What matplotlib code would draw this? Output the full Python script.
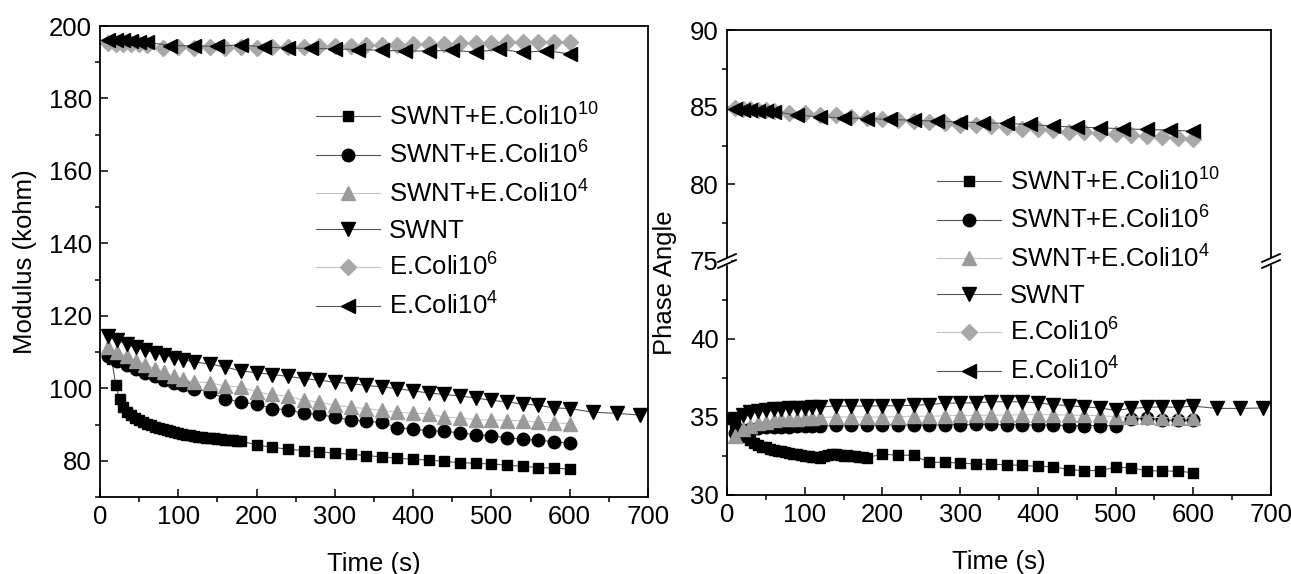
import numpy as np
import matplotlib.pyplot as plt
from matplotlib.ticker import MultipleLocator, FixedLocator

plt.rcParams['font.family'] = ['Liberation Sans', 'DejaVu Sans']
plt.rcParams['mathtext.default'] = 'regular'
plt.rcParams['font.size'] = 18.5

W, H = 1291, 574
FS = 18.5

# ---------------- data: modulus (left panel) ----------------
t_dense10 = [10, 22, 34, 46, 58, 70, 82, 94, 106, 120]
t_step20 = list(range(140, 601, 20))
t_swnt_tail = [630, 660, 690]

mod_swnt = [114.5, 113.2, 112.2, 111.3, 110.5, 109.8, 109.1, 108.5, 107.9, 107.3,
            106.7, 105.9, 104.8, 104.3, 103.8, 103.3, 102.7, 102.2, 101.7, 101.3,
            100.8, 100.4, 99.9, 99.3, 98.7, 98.3, 97.9, 97.3, 96.7, 96.2, 95.7,
            95.3, 94.6, 94.4, 93.4, 93.1, 92.6]
mod_swnt_e6 = [109.0, 107.5, 106.3, 105.2, 104.2, 103.3, 102.4, 101.6, 100.8, 99.9,
               99.0, 97.1, 96.2, 95.6, 94.4, 94.1, 93.1, 92.8, 92.0, 91.3, 90.9,
               90.6, 89.1, 88.8, 88.3, 88.1, 87.7, 87.2, 86.9, 86.3, 86.0, 85.6,
               85.3, 84.8]
mod_swnt_e4 = [111.5, 110.0, 108.8, 107.6, 106.5, 105.4, 104.4, 103.4, 102.5, 101.7,
               101.6, 100.6, 100.4, 99.0, 98.3, 97.8, 96.7, 96.2, 95.3, 94.8, 94.4,
               93.9, 93.4, 93.1, 93.0, 92.0, 91.9, 91.3, 91.3, 91.1, 91.1, 90.6,
               90.5, 90.2]

t_sq_mod = [15] + list(range(20, 181, 5)) + list(range(200, 601, 20))
mod_swnt_e10 = [108.0,
                101.0, 97.0, 94.8, 93.5, 92.5, 91.8, 91.2, 90.7, 90.2, 89.8, 89.4,
                89.1, 88.8, 88.5, 88.2, 87.9, 87.6, 87.4, 87.2, 87.0, 86.8, 86.6,
                86.5, 86.4, 86.3, 86.2, 86.0, 85.9, 85.8, 85.7, 85.6, 85.5, 85.4,
                84.4, 83.7, 83.2, 82.8, 82.5, 82.1, 81.8, 81.4, 81.1, 80.7, 80.4,
                80.2, 79.8, 79.5, 79.3, 79.1, 78.8, 78.5, 78.1, 78.0, 77.7]

t_ecoli4 = [10, 20, 30, 40, 50, 60] + list(range(90, 601, 30))
t_ecoli6 = [10, 20, 30, 40, 50, 60] + list(range(80, 601, 20))
mod_ecoli4 = [196.2, 196.1, 196.0, 195.8, 195.7, 195.5,
              194.6, 194.5, 194.4, 194.8, 194.2, 193.9, 193.8, 193.7, 193.5,
              193.3, 193.1, 193.1, 193.3, 192.8, 193.6, 192.7, 193.2, 192.3]
mod_ecoli6 = [195.2, 195.1, 195.0, 194.9, 194.9, 194.8,
              193.9, 194.1, 194.0, 194.2, 194.0, 194.1, 194.0, 194.1, 194.2,
              194.3, 194.4, 194.5, 194.6, 194.7, 194.7, 194.8, 195.0, 195.1,
              195.1, 195.2, 195.3, 195.4, 195.5, 195.5, 195.6, 195.7, 195.7]

# ---------------- data: phase angle (right panel) ----------------
t_dense_ph = list(range(10, 121, 10))
t_sq_ph = list(range(5, 181, 5)) + list(range(200, 601, 20))

ph_swnt = [34.9, 35.15, 35.3, 35.4, 35.45, 35.5, 35.52, 35.55, 35.57, 35.6, 35.62, 35.65,
           35.7, 35.7, 35.7, 35.72, 35.72, 35.75, 35.8, 35.88, 35.9, 35.9, 35.98, 35.98,
           35.98, 35.9, 35.8, 35.72, 35.65, 35.58, 35.42, 35.55, 35.62, 35.65, 35.62, 35.7,
           35.55, 35.55, 35.58]
ph_swnt_e4 = [33.8, 34.2, 34.45, 34.6, 34.7, 34.78, 34.85, 34.88, 34.9, 34.92, 34.95, 34.97,
              35.0, 35.0, 35.0, 35.0, 35.02, 35.05, 35.05, 35.08, 35.1, 35.1, 35.12, 35.12,
              35.15, 35.15, 35.15, 35.12, 35.1, 35.1, 35.0, 35.0, 35.0, 34.95, 34.95, 34.95]
ph_swnt_e6 = [34.0, 34.15, 34.25, 34.3, 34.33, 34.35, 34.37, 34.38, 34.4, 34.4, 34.4, 34.4,
              34.48, 34.5, 34.5, 34.5, 34.5, 34.48, 34.48, 34.5, 34.5, 34.52, 34.52, 34.5,
              34.5, 34.48, 34.48, 34.45, 34.45, 34.45, 34.45,
              34.85, 34.95, 34.8, 34.78, 34.78]
ph_swnt_e10 = [34.9, 34.6, 34.2, 33.9, 33.7, 33.5, 33.35, 33.2, 33.1, 33.05, 32.98, 32.9,
               32.85, 32.8, 32.75, 32.7, 32.65, 32.6, 32.56, 32.52, 32.5, 32.45, 32.42, 32.4,
               32.5, 32.58, 32.6, 32.62, 32.58, 32.52, 32.56, 32.5, 32.47, 32.45, 32.42, 32.4,
               32.62, 32.55, 32.55, 32.1, 32.1, 32.05, 31.99, 31.97, 31.94, 31.9, 31.83,
               31.82, 31.62, 31.57, 31.57, 31.77, 31.75, 31.55, 31.55, 31.52, 31.44]
ph_ecoli4 = [84.85, 84.8, 84.78, 84.75, 84.72, 84.7,
             84.48, 84.35, 84.3, 84.24, 84.2, 84.13, 84.09, 84.02, 83.98, 83.93, 83.87,
             83.76, 83.69, 83.65, 83.58, 83.54, 83.5, 83.43]
ph_ecoli6 = [84.95, 84.9, 84.85, 84.8, 84.78, 84.75,
             84.63, 84.6, 84.5, 84.45, 84.38, 84.3, 84.22, 84.18, 84.12, 84.05, 83.95,
             83.85, 83.8, 83.75, 83.68, 83.6, 83.55, 83.48, 83.4, 83.35, 83.28, 83.22,
             83.18, 83.1, 83.05, 83.0, 82.95]

labels = ['SWNT+E.Coli10$^{10}$', 'SWNT+E.Coli10$^{6}$', 'SWNT+E.Coli10$^{4}$',
          'SWNT', 'E.Coli10$^{6}$', 'E.Coli10$^{4}$']

# marker, face colour, marker size, line colour
styles = [('s', 'black', 7.5, '#555555'),
          ('o', 'black', 9, '#555555'),
          ('^', '#9a9a9a', 10, '#c4c4c4'),
          ('v', 'black', 10, '#555555'),
          ('D', '#a8a8a8', 8, '#c4c4c4'),
          ('<', 'black', 10, '#555555')]

t_swnt_mod = t_dense10 + t_step20 + t_swnt_tail
t_other_mod = t_dense10 + t_step20
mod_series = [(t_sq_mod, mod_swnt_e10), (t_other_mod, mod_swnt_e6), (t_other_mod, mod_swnt_e4),
              (t_swnt_mod, mod_swnt), (t_ecoli6, mod_ecoli6), (t_ecoli4, mod_ecoli4)]

t_swnt_ph = t_dense_ph + t_step20 + t_swnt_tail
t_other_ph = t_dense_ph + t_step20
ph_series = [(t_sq_ph, ph_swnt_e10), (t_other_ph, ph_swnt_e6), (t_other_ph, ph_swnt_e4),
             (t_swnt_ph, ph_swnt), (t_ecoli6, ph_ecoli6), (t_ecoli4, ph_ecoli4)]


def fx(px):
    return px / W


def fy(py):
    return 1 - py / H


def draw(ax, series):
    handles = []
    for (t, v), (m, fc, ms, lc), lab in zip(series, styles, labels):
        h, = ax.plot(t, v, color=lc, lw=0.8, marker=m, ms=ms, mfc=fc, mec=fc,
                     label=lab)
        handles.append(h)
    return handles


def style(ax):
    ax.tick_params(direction='in', top=False, right=False, labelsize=FS, pad=6)
    ax.tick_params(which='major', length=6, width=1.1)
    ax.tick_params(which='minor', length=3.5, width=1.1)
    for s in ax.spines.values():
        s.set_linewidth(1.3)
    ax.set_xlim(0, 700)
    ax.xaxis.set_major_locator(MultipleLocator(100))
    ax.xaxis.set_minor_locator(MultipleLocator(50))


leg_kw = dict(frameon=False, fontsize=FS, handlelength=2.5, handletextpad=0.35,
              labelspacing=0.44, borderpad=0, borderaxespad=0, numpoints=1)

fig = plt.figure(figsize=(W / 100, H / 100), dpi=100)

# ---- left: modulus ----
axL = fig.add_axes([fx(100), fy(497), fx(548), 471 / H])
hL = draw(axL, mod_series)
style(axL)
axL.set_ylim(70, 200)
axL.yaxis.set_major_locator(MultipleLocator(20))
axL.yaxis.set_minor_locator(MultipleLocator(10))
axL.set_xlabel('Time (s)', fontsize=FS, labelpad=16)
axL.set_ylabel('Modulus (kohm)', fontsize=FS, labelpad=8)
axL.legend(handles=hL, loc='upper left', bbox_to_anchor=(fx(316), fy(103)),
           bbox_transform=fig.transFigure, **leg_kw)

# ---- right: phase angle with broken axis ----
axU = fig.add_axes([fx(727), fy(261), fx(544), 231 / H])
axD = fig.add_axes([fx(727), fy(495), fx(544), 234 / H])
draw(axU, ph_series)
hR = draw(axD, ph_series)
for ax in (axU, axD):
    style(ax)
axU.set_ylim(75, 90)
axD.set_ylim(30, 45)
axU.yaxis.set_major_locator(MultipleLocator(5))
axU.yaxis.set_minor_locator(MultipleLocator(2.5))
axD.yaxis.set_major_locator(FixedLocator([30, 35, 40]))
axD.yaxis.set_minor_locator(FixedLocator([32.5, 37.5, 42.5]))
axU.spines['bottom'].set_visible(False)
axU.tick_params(axis='x', which='both', bottom=False, labelbottom=False)
axD.spines['top'].set_visible(False)
axD.set_xlabel('Time (s)', fontsize=FS, labelpad=16)
fig.text(fx(665), fy(283), 'Phase Angle', rotation=90, ha='center', va='center',
         fontsize=FS)

# break marks on both spines
for xb in (727, 1271):
    fig.patches.append(plt.Rectangle((fx(xb - 3), fy(264)), fx(6), 6 / H,
                                     transform=fig.transFigure, color='white',
                                     zorder=10))
    for dy in (-3, 3):
        fig.lines.append(plt.Line2D([fx(xb - 9), fx(xb + 9)],
                                    [fy(261 + dy + 4), fy(261 + dy - 4)],
                                    transform=fig.transFigure, color='black',
                                    lw=1.3, zorder=11))

fig.legend(handles=hR, loc='upper left', bbox_to_anchor=(fx(937), fy(168)),
           bbox_transform=fig.transFigure, **leg_kw)

fig.savefig('out.png', dpi=100)
